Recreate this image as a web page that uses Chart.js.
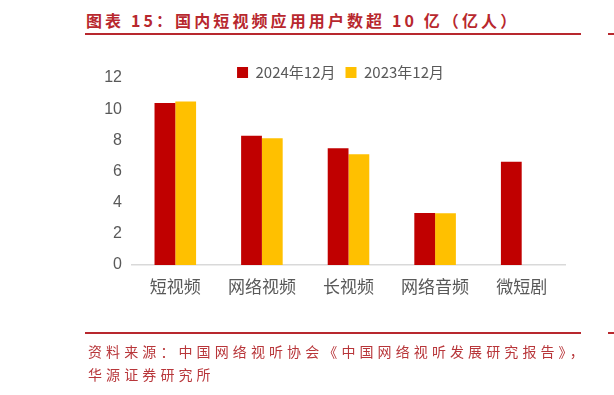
<!DOCTYPE html>
<html>
<head>
<meta charset="utf-8">
<script src="https://cdn.jsdelivr.net/npm/chart.js@4"></script>
<style>
  html, body { margin: 0; padding: 0; background: #fff; }
  body { width: 614px; height: 395px; position: relative; overflow: hidden; }
  #chart { position: absolute; left: 0; top: 0; }
  .title {
    position: absolute; left: 86px; top: 8px;
    font-family: "Noto Sans CJK SC", sans-serif; font-weight: bold;
    font-size: 16px; letter-spacing: 3.1px; color: #b8282e; white-space: nowrap;
  }
  .rule { position: absolute; height: 2px; background: #b8282e; }
  .source {
    position: absolute; left: 88px; top: 340px;
    font-family: "Noto Sans CJK SC", sans-serif;
    font-size: 14px; letter-spacing: 4.1px; line-height: 23px; color: #b8363a;
    white-space: nowrap;
  }
</style>
</head>
<body>
<div class="title">图表 15：国内短视频应用用户数超 10 亿（亿人）</div>
<div class="rule" style="left:85px; width:496px; top:33px;"></div>
<div class="rule" style="left:608px; width:6px; top:33px;"></div>
<canvas id="chart" width="614" height="395"></canvas>
<div class="rule" style="left:85px; width:496px; top:332px;"></div>
<div class="rule" style="left:608px; width:6px; top:332px;"></div>
<div class="source">资料来源：中国网络视听协会《中国网络视听发展研究报告》，<br>华源证券研究所</div>

<script>
// categories and values (亿人)
const categories = ["短视频", "网络视频", "长视频", "网络音频", "微短剧"];
const users2024 = [10.40, 8.30, 7.49, 3.33, 6.62];
const users2023 = [10.50, 8.13, 7.10, 3.32, null];
const seriesNames = ["2024年12月", "2023年12月"];
const yTicks = [0, 2, 4, 6, 8, 10, 12];

// the legend in the original sits lower, overlapping the top of the plot
const legendShift = {
  id: "legendShift",
  afterLayout(chart) {
    const lg = chart.legend;
    if (!lg) return;
    const dx = -8;
    const dy = 12;
    lg.left += dx;
    lg.right += dx;
    lg.top += dy;
    lg.bottom += dy;
  },
};

const ctx = document.getElementById("chart");

new Chart(ctx, {
  type: "bar",
  data: {
    labels: categories,
    datasets: [
      {
        label: seriesNames[0],
        data: users2024,
        backgroundColor: "#c00000",
        borderWidth: 0,
      },
      {
        label: seriesNames[1],
        data: users2023,
        backgroundColor: "#ffc000",
        borderWidth: 0,
      },
    ],
  },
  plugins: [legendShift],
  options: {
    responsive: false,
    animation: false,
    layout: {
      padding: { left: 85, right: 49, top: 43, bottom: 90 },
    },
    datasets: {
      bar: { categoryPercentage: 0.48, barPercentage: 1.0 },
    },
    plugins: {
      legend: {
        position: "top",
        fullSize: false,
        labels: {
          boxWidth: 11,
          boxHeight: 11,
          padding: 10,
          color: "#595959",
          font: { family: "Noto Sans CJK SC", size: 15 },
        },
      },
      tooltip: { enabled: false },
    },
    scales: {
      x: {
        grid: { display: false, drawTicks: false },
        border: { color: "#d9d9d9", width: 1.5 },
        ticks: {
          color: "#595959",
          padding: 11,
          font: { family: "Noto Sans CJK SC", size: 17 },
        },
        afterFit: function (scale) {
          scale.height = 40;
        },
      },
      y: {
        min: 0,
        max: 12,
        grid: { display: false, drawTicks: false },
        border: { display: false },
        ticks: {
          color: "#595959",
          padding: 10,
          font: { family: "Liberation Sans", size: 16 },
        },
        afterBuildTicks: function (scale) {
          scale.ticks = yTicks.map((v) => ({ value: v }));
        },
        afterFit: function (scale) {
          scale.width = 47;
        },
      },
    },
  },
});
</script>
</body>
</html>
